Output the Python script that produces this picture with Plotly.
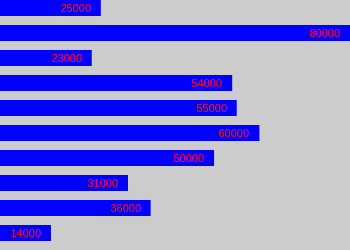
import plotly.graph_objects as go

values = [25000, 80000, 23000, 54000, 55000, 60000, 50000, 31000, 36000, 14000]
labels = [str(v) for v in values]
positions = list(range(len(values)))

fig = go.Figure()
fig.add_trace(go.Bar(
    x=values, y=positions, orientation="h",
    marker=dict(color="#0000ff", line=dict(width=0)),
    width=0.64, hoverinfo="skip",
))
for v, p, t in zip(values, positions, labels):
    fig.add_annotation(
        x=v, y=p, text=t, showarrow=False, xanchor="right", yanchor="middle",
        xshift=-8, font=dict(family="Liberation Sans", size=11, color="#ff0000"),
    )
fig.update_layout(
    width=350, height=250, margin=dict(l=0, r=0, t=0, b=0),
    paper_bgcolor="#cccccc", plot_bgcolor="#cccccc", showlegend=False,
    xaxis=dict(range=[2750, 80000], visible=False, showgrid=False, zeroline=False),
    yaxis=dict(range=[9.68, -0.32], visible=False, showgrid=False, zeroline=False),
)
fig.write_html("out.html", config={"displayModeBar": False})
